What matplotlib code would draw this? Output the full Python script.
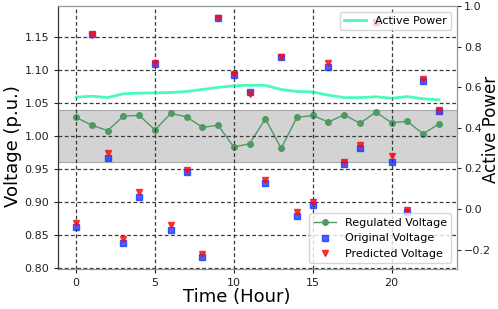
import matplotlib
matplotlib.use("Agg")
import matplotlib.pyplot as plt

hours = list(range(24))

original_voltage = [0.861, 1.154, 0.967, 0.838, 0.907, 1.109, 0.857, 0.945, 0.816, 1.179,
                    1.092, 1.066, 0.929, 1.120, 0.878, 0.895, 1.105, 0.957, 0.982, 1.173,
                    0.961, 0.884, 1.084, 1.038]
predicted_voltage = [0.867, 1.153, 0.974, 0.843, 0.915, 1.111, 0.864, 0.948, 0.821, 1.179,
                     1.094, 1.064, 0.933, 1.120, 0.885, 0.900, 1.110, 0.961, 0.986, 1.172,
                     0.969, 0.888, 1.087, 1.039]
regulated_voltage = [1.028, 1.016, 1.008, 1.030, 1.031, 1.009, 1.034, 1.029, 1.013, 1.016,
                     0.983, 0.988, 1.026, 0.981, 1.028, 1.031, 1.021, 1.032, 1.019, 1.036,
                     1.020, 1.022, 1.003, 1.018]
active_power = [0.551, 0.556, 0.549, 0.568, 0.571, 0.572, 0.574, 0.579, 0.589, 0.599,
                0.607, 0.610, 0.609, 0.589, 0.579, 0.577, 0.561, 0.549, 0.549, 0.553,
                0.546, 0.554, 0.543, 0.538]

band_low, band_high = 0.96, 1.04

fig = plt.figure(figsize=(4.98, 3.09), dpi=100)
ax = fig.add_axes([58 / 498, 1 - 269 / 309, 399 / 498, 263 / 309])

ax.axhspan(band_low, band_high, facecolor="#d3d3d3", edgecolor="#a8a8a8", lw=0.8, zorder=0)
ax.plot(hours, regulated_voltage, color="#4e9a62", marker="o", ms=4, lw=1.0,
        label="Regulated Voltage", zorder=2)
ax.plot(hours, original_voltage, ls="none", marker="s", ms=4.5, color="#1030ff",
        alpha=0.75, label="Original Voltage", zorder=3)
ax.plot(hours, predicted_voltage, ls="none", marker="v", ms=4.5, color="#ff0a0a",
        alpha=0.8, label="Predicted Voltage", zorder=4)

ax.set_yticks([0.80, 0.85, 0.90, 0.95, 1.00, 1.05, 1.10, 1.15])
ax.set_xticks([0, 5, 10, 15, 20])
ax.grid(True, ls="--", color="#3a3a3a", lw=0.9, dashes=(3, 2))
ax.set_axisbelow(False)
ax.tick_params(labelsize=8, colors="#222222", length=3)
ax.set_xlabel("Time (Hour)", fontsize=13)
ax.set_ylabel("Voltage (p.u.)", fontsize=13)
ax.xaxis.set_label_coords(0.4486, -0.074)
ax.yaxis.set_label_coords(-0.0895, 0.468)
ax.legend(loc="lower right", fontsize=8, framealpha=0.8, edgecolor="#cccccc")

ax2 = ax.twinx()
ax2.plot(hours, active_power, color="#00fa9a", alpha=0.7, lw=2, label="Active Power")
ax2.set_ylim(-0.295, 1.0)
ax2.set_yticks([-0.2, 0.0, 0.2, 0.4, 0.6, 0.8, 1.0])
ax2.tick_params(labelsize=8, colors="#222222", length=3, pad=2)
ax2.set_ylabel("Active Power", fontsize=12)
ax2.yaxis.set_label_coords(1.063, 0.532)
ax2.legend(loc="upper right", fontsize=8, framealpha=0.8, edgecolor="#cccccc")

for a in (ax, ax2):
    for side in ("top", "right", "bottom"):
        a.spines[side].set_color("#8a9a9a")
    a.spines["left"].set_color("#333333")

fig.savefig("out.png", dpi=100)
